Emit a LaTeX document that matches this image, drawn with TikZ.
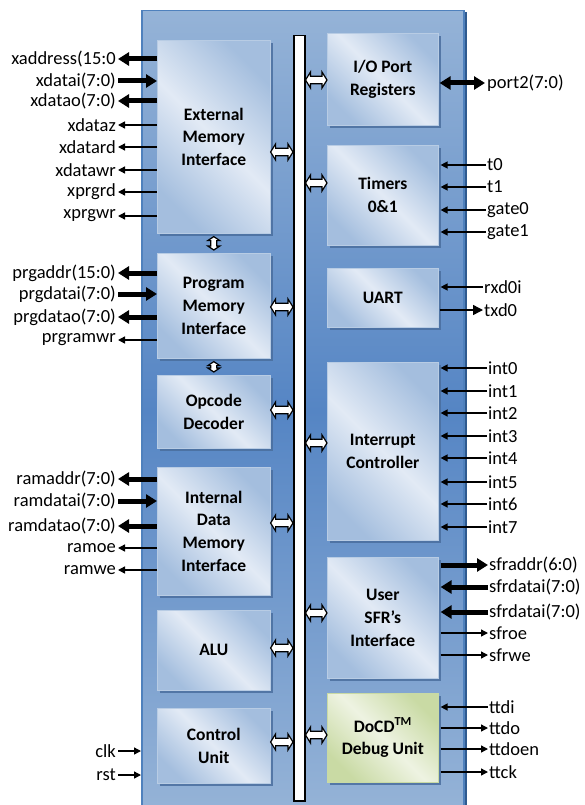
\documentclass[tikz,border=0pt]{standalone}
\usepackage{fontspec}
\setmainfont{Carlito}
\usetikzlibrary{arrows.meta,shadows}
\definecolor{chiptop}{HTML}{95B3D7}
\definecolor{chipmid}{HTML}{5585C4}
\definecolor{chipedge}{HTML}{4F81BD}
\definecolor{chipshadow}{HTML}{2F5A8F}
\definecolor{boxlight}{HTML}{E2EAF5}
\definecolor{boxdark}{HTML}{A4BEDE}
\definecolor{boxline}{HTML}{B8CCE4}
\definecolor{boxshadow}{HTML}{4A6E9E}
\definecolor{greenlight}{HTML}{EEF3E2}
\definecolor{greendark}{HTML}{C9DAA4}
\tikzset{
  every node/.style={font=\fontsize{18.5}{22.5}\selectfont},
  chip/.style={draw=chipedge, line width=1.5pt, top color=chiptop, bottom color=chiptop, middle color=chipmid,
    drop shadow={shadow xshift=3pt, shadow yshift=-1pt, fill=chipshadow, opacity=1}},
  blk/.style={draw=boxline, line width=0.6pt, top color=boxdark, bottom color=boxdark, middle color=boxlight,
    shading angle=-45, align=center, font=\fontsize{17.5}{22.8}\selectfont\bfseries, anchor=north west, inner sep=0pt,
    drop shadow={shadow xshift=3pt, shadow yshift=-3pt, fill=boxshadow, opacity=0.85}},
  grnblk/.style={blk, top color=greendark, bottom color=greendark, middle color=greenlight, shading angle=-45,
    draw=greendark},
  busbar/.style={draw=black, fill=white, line width=1.5pt, anchor=north west, inner sep=0pt},
  lbl/.style={inner sep=1pt},
  thin/.style={line width=1.4pt, -{Triangle[length=7pt,width=7pt]}},
  thinbig/.style={line width=1.4pt, -{Triangle[length=10pt,width=10pt]}},
  thick/.style={line width=5pt, -{Triangle[length=11pt,width=13pt]}},
  thickboth/.style={line width=5pt, {Triangle[length=11pt,width=13pt]}-{Triangle[length=11pt,width=13pt]}},
  hbus/.style={draw=black, fill=white, line width=1.2pt, line join=miter, to path={
    -- ([shift={(5pt,8pt)}]\tikztostart) -- ([shift={(5pt,3.8pt)}]\tikztostart)
    -- ([shift={(-5pt,3.8pt)}]\tikztotarget) -- ([shift={(-5pt,8pt)}]\tikztotarget)
    -- (\tikztotarget)
    -- ([shift={(-5pt,-8pt)}]\tikztotarget) -- ([shift={(-5pt,-3.8pt)}]\tikztotarget)
    -- ([shift={(5pt,-3.8pt)}]\tikztostart) -- ([shift={(5pt,-8pt)}]\tikztostart) -- cycle}},
  vbus/.style={draw=black, fill=white, line width=1.2pt, line join=miter, to path={
    -- ([shift={(6pt,-4pt)}]\tikztostart) -- ([shift={(3pt,-4pt)}]\tikztostart)
    -- ([shift={(3pt,4pt)}]\tikztotarget) -- ([shift={(6pt,4pt)}]\tikztotarget)
    -- (\tikztotarget)
    -- ([shift={(-6pt,4pt)}]\tikztotarget) -- ([shift={(-3pt,4pt)}]\tikztotarget)
    -- ([shift={(-3pt,-4pt)}]\tikztostart) -- ([shift={(-6pt,-4pt)}]\tikztostart) -- cycle}}
}
\begin{document}
\begin{tikzpicture}[x=1pt,y=-1pt]
\useasboundingbox (0,0) rectangle (584,805);
% chip outline
\begin{scope}
\clip (0,0) rectangle (584,805);
\node[chip, minimum width=322, minimum height=800, anchor=north west, inner sep=0pt] (chip) at (141,10) {};
\end{scope}
% bus
\node[busbar, minimum width=11, minimum height=765] (bus) at (293,35) {};
% left blocks
\node[blk, minimum width=113, minimum height=193] (emi) at (157,40) {External\\Memory\\Interface};
\node[blk, minimum width=113, minimum height=105] (pmi) at (157,253) {Program\\Memory\\Interface};
\node[blk, minimum width=113, minimum height=73] (opc) at (157,375) {Opcode\\Decoder};
\node[blk, minimum width=113, minimum height=128] (idm) at (157,467) {Internal\\Data\\Memory\\Interface};
\node[blk, minimum width=113, minimum height=80] (alu) at (157,610) {ALU};
\node[blk, minimum width=113, minimum height=75] (ctl) at (157,708) {Control\\Unit};
% right blocks
\node[blk, minimum width=111, minimum height=92] (io) at (327,33) {I/O Port\\Registers};
\node[blk, minimum width=111, minimum height=100] (tmr) at (327,145) {Timers\\0\&1};
\node[blk, minimum width=111, minimum height=59] (uart) at (327,268) {UART};
\node[blk, minimum width=111, minimum height=178] (irq) at (327,362) {Interrupt\\Controller};
\node[blk, minimum width=111, minimum height=121] (sfr) at (327,557) {User\\SFR’s\\Interface};
\node[grnblk, minimum width=111, minimum height=89] (docd) at (327,693) {DoCD\textsuperscript{TM}\\Debug Unit};
% bus arrows left
\foreach \b/\y in {emi/152, pmi/307, opc/410, idm/523, alu/648, ctl/742}{
  \coordinate (\b-bs) at (\b.east |- 0,\y);
  \draw[hbus] (\b-bs) to (\b-bs -| bus.west);
}
% bus arrows right
\foreach \b/\y in {io/80, tmr/183, irq/443, sfr/613, docd/735}{
  \coordinate (\b-bs) at (\b.west |- 0,\y);
  \draw[hbus] (\b-bs -| bus.east) to (\b-bs);
}
% vertical arrows
\draw[vbus] ([yshift=-3pt]emi.south) to ([yshift=3pt]pmi.north);
\draw[vbus] ([yshift=-3pt]pmi.south) to ([yshift=3pt]opc.north);
% left signals
\foreach \n/\t/\y/\k in {
  xaddress/{xaddress(15:0}/59/0, xdatai/{xdatai(7:0)}/81/1, xdatao/{xdatao(7:0)}/101/0,
  xdataz/xdataz/125/2, xdatard/xdatard/147/2, xdatawr/xdatawr/170/2, xprgrd/xprgrd/192/2, xprgwr/xprgwr/216/2}{
  \node[lbl, anchor=east] (\n) at (117,\y) {\t};
  \ifcase\k
    \draw[thick] (emi.west |- \n.east) -- ([xshift=1pt]\n.east);
  \or
    \draw[thick] ([xshift=1pt]\n.east) -- (emi.west |- \n.east);
  \or
    \draw[thin] (emi.west |- \n.east) -- ([xshift=1pt]\n.east);
  \fi
}
\foreach \n/\t/\y/\k in {
  prgaddr/{prgaddr(15:0)}/273/0, prgdatai/{prgdatai(7:0)}/294/1, prgdatao/{prgdatao(7:0)}/317/0, prgramwr/prgramwr/340/2}{
  \node[lbl, anchor=east] (\n) at (117,\y) {\t};
  \ifcase\k
    \draw[thick] (pmi.west |- \n.east) -- ([xshift=1pt]\n.east);
  \or
    \draw[thick] ([xshift=1pt]\n.east) -- (pmi.west |- \n.east);
  \or
    \draw[thin] (pmi.west |- \n.east) -- ([xshift=1pt]\n.east);
  \fi
}
\foreach \n/\t/\y/\k in {
  ramaddr/{ramaddr(7:0)}/479/0, ramdatai/{ramdatai(7:0)}/501/1, ramdatao/{ramdatao(7:0)}/526/0, ramoe/ramoe/548/2, ramwe/ramwe/570/2}{
  \node[lbl, anchor=east] (\n) at (117,\y) {\t};
  \ifcase\k
    \draw[thick] (idm.west |- \n.east) -- ([xshift=1pt]\n.east);
  \or
    \draw[thick] ([xshift=1pt]\n.east) -- (idm.west |- \n.east);
  \or
    \draw[thin] (idm.west |- \n.east) -- ([xshift=1pt]\n.east);
  \fi
}
\foreach \n/\y in {clk/751, rst/775}{
  \node[lbl, anchor=east] (\n) at (117,\y) {\n};
  \draw[thin] ([xshift=1pt]\n.east) -- (chip.west |- \n.east);
}
% right signals
\node[lbl, anchor=west] (port2) at (486,83) {port2(7:0)};
\draw[thickboth] ([xshift=1pt]io.east |- port2.west) -- ([xshift=-1pt]port2.west);
\foreach \n/\y in {t0/165, t1/187, gate0/210, gate1/232}{
  \node[lbl, anchor=west] (\n) at (486,\y) {\n};
  \draw[thin] (\n.west) -- ([xshift=2pt]tmr.east |- \n.west);
}
\node[lbl, anchor=west] (rxd0i) at (483,287) {rxd0i};
\draw[thin] (rxd0i.west) -- ([xshift=2pt]uart.east |- rxd0i.west);
\node[lbl, anchor=west] (txd0) at (483,310) {txd0};
\draw[thinbig] ([xshift=1pt]uart.east |- txd0.west) -- (txd0.west);
\foreach \n/\y in {int0/368, int1/391, int2/413, int3/436, int4/458, int5/482, int6/504, int7/527}{
  \node[lbl, anchor=west] (\n) at (487,\y) {\n};
  \draw[thin] (\n.west) -- ([xshift=2pt]irq.east |- \n.west);
}
\node[lbl, anchor=west] (sfraddr) at (488,565) {sfraddr(6:0)};
\draw[thick] ([xshift=2pt]sfr.east |- sfraddr.west) -- (sfraddr.west);
\node[lbl, anchor=west] (sfrdatai) at (488,587) {sfrdatai(7:0)};
\draw[thick] (sfrdatai.west) -- ([xshift=2pt]sfr.east |- sfrdatai.west);
\node[lbl, anchor=west] (sfrdataii) at (488,612) {sfrdatai(7:0)};
\draw[thick] (sfrdataii.west) -- ([xshift=2pt]sfr.east |- sfrdataii.west);
\node[lbl, anchor=west] (sfroe) at (488,633) {sfroe};
\draw[thin] ([xshift=2pt]sfr.east |- sfroe.west) -- (sfroe.west);
\node[lbl, anchor=west] (sfrwe) at (488,655) {sfrwe};
\draw[thin] ([xshift=2pt]sfr.east |- sfrwe.west) -- (sfrwe.west);
\node[lbl, anchor=west] (ttdi) at (488,707) {ttdi};
\draw[thin] (ttdi.west) -- ([xshift=2pt]docd.east |- ttdi.west);
\foreach \n/\y in {ttdo/728, ttdoen/749, ttck/772}{
  \node[lbl, anchor=west] (\n) at (488,\y) {\n};
  \draw[thin] ([xshift=2pt]docd.east |- \n.west) -- (\n.west);
}
\end{tikzpicture}
\end{document}
